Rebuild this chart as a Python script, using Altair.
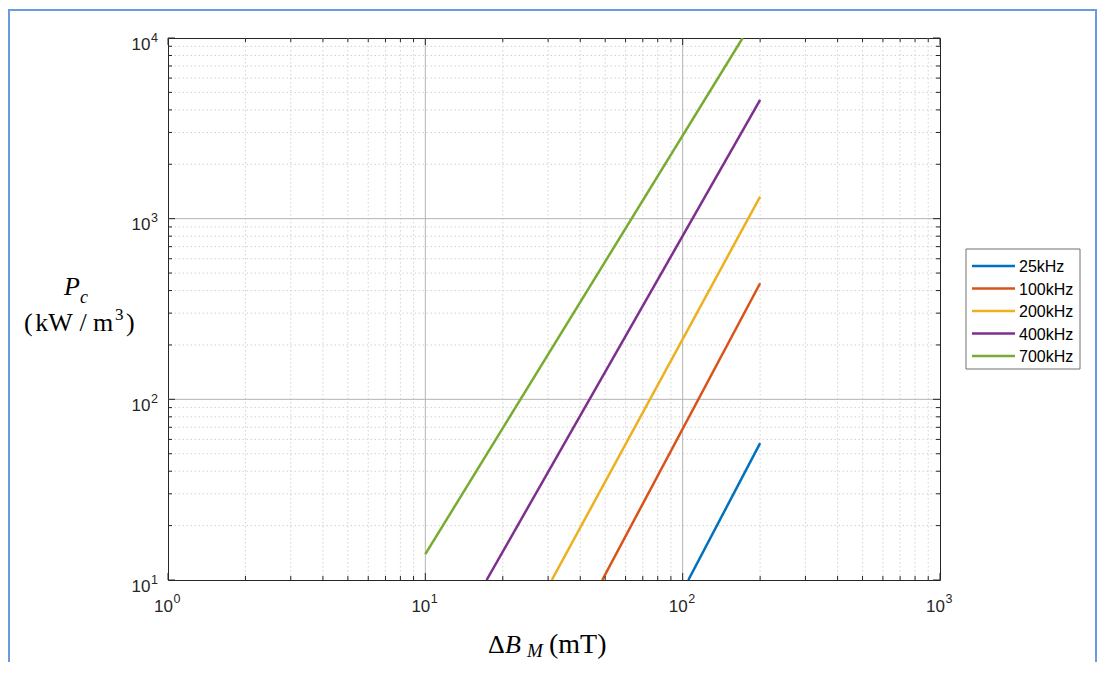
import altair as alt
import pandas as pd

# ---- data ----
series = ["25kHz", "100kHz", "200kHz", "400kHz", "700kHz"]
colors = ["#0072BD", "#D95319", "#EDB120", "#7E2F8E", "#77AC30"]
b_start = [105.2, 48.7, 31.0, 17.3, 10.0]
p_start = [10.0, 10.0, 10.0, 10.0, 13.9]
b_end = [200.0, 200.0, 200.0, 200.0, 171.0]
p_end = [57.2, 439.0, 1324.0, 4540.0, 10000.0]

x_major = [1, 10, 100, 1000]
y_major = [10, 100, 1000, 10000]
x_exp = ["0", "1", "2", "3"]
y_exp = ["1", "2", "3", "4"]
x_minor = [m * 10 ** d for d in range(0, 3) for m in range(2, 10)]
y_minor = [m * 10 ** d for d in range(1, 4) for m in range(2, 10)]
x_grid_major = [10, 100]
y_grid_major = [100, 1000]

W, H = 772, 542
PL, PT, PR, PB = 160, 30, 157, 82
AX = "#262626"
SANS = "Liberation Sans"
SERIF = "Liberation Serif"

rows = []
for i, s in enumerate(series):
    rows.append({"series": s, "B": b_start[i], "P": p_start[i], "k": 0})
    rows.append({"series": s, "B": b_end[i], "P": p_end[i], "k": 1})
lines = pd.DataFrame(rows)

xs = alt.Scale(type="log", domain=[1, 1000], nice=False)
ys = alt.Scale(type="log", domain=[10, 10000], nice=False)


def xenc(f="v"):
    return alt.X(f"{f}:Q", scale=xs, axis=None)


def yenc(f="v"):
    return alt.Y(f"{f}:Q", scale=ys, axis=None)


one = pd.DataFrame({"a": [0]})
layers = []

# minor grids (dotted)
layers.append(alt.Chart(pd.DataFrame({"v": x_minor})).mark_rule(
    color="#d2d2d2", strokeDash=[1.5, 2.5], strokeWidth=1).encode(x=xenc()))
layers.append(alt.Chart(pd.DataFrame({"v": y_minor})).mark_rule(
    color="#d2d2d2", strokeDash=[1.5, 2.5], strokeWidth=1).encode(y=yenc()))
# major grids (solid)
layers.append(alt.Chart(pd.DataFrame({"v": x_grid_major})).mark_rule(
    color="#b4b4b4", strokeWidth=1).encode(x=xenc()))
layers.append(alt.Chart(pd.DataFrame({"v": y_grid_major})).mark_rule(
    color="#b4b4b4", strokeWidth=1).encode(y=yenc()))

# data lines
layers.append(alt.Chart(lines).mark_line(strokeWidth=2.5, clip=True).encode(
    x=alt.X("B:Q", scale=xs, axis=None),
    y=alt.Y("P:Q", scale=ys, axis=None),
    color=alt.Color("series:N", sort=series,
                    scale=alt.Scale(domain=series, range=colors), legend=None),
    order="k:O",
))

# ticks (inward, all four sides)
xmaj = pd.DataFrame({"v": x_major})
xmin = pd.DataFrame({"v": x_minor})
ymaj = pd.DataFrame({"v": y_major})
ymin = pd.DataFrame({"v": y_minor})
for df, ln in [(xmaj, 7), (xmin, 4)]:
    layers.append(alt.Chart(df).mark_rule(color=AX, strokeWidth=1).encode(
        x=xenc(), y=alt.value(H), y2=alt.value(H - ln)))
    layers.append(alt.Chart(df).mark_rule(color=AX, strokeWidth=1).encode(
        x=xenc(), y=alt.value(0), y2=alt.value(ln)))
for df, ln in [(ymaj, 7), (ymin, 4)]:
    layers.append(alt.Chart(df).mark_rule(color=AX, strokeWidth=1).encode(
        y=yenc(), x=alt.value(0), x2=alt.value(ln)))
    layers.append(alt.Chart(df).mark_rule(color=AX, strokeWidth=1).encode(
        y=yenc(), x=alt.value(W), x2=alt.value(W - ln)))

# tick labels 10^n
xl = pd.DataFrame({"v": x_major, "e": x_exp})
yl = pd.DataFrame({"v": y_major, "e": y_exp})
layers.append(alt.Chart(xl).mark_text(text="10", align="right", baseline="alphabetic",
                                      dx=5, font=SANS, fontSize=17, color=AX).encode(
    x=xenc(), y=alt.value(H + 31.5)))
layers.append(alt.Chart(xl).mark_text(align="left", baseline="alphabetic",
                                      dx=5.5, font=SANS, fontSize=12.5, color=AX).encode(
    x=xenc(), y=alt.value(H + 22.5), text="e:N"))
layers.append(alt.Chart(yl).mark_text(text="10", align="right", baseline="alphabetic",
                                      dy=11.5, font=SANS, fontSize=17, color=AX).encode(
    y=yenc(), x=alt.value(-17.5)))
layers.append(alt.Chart(yl).mark_text(align="left", baseline="alphabetic",
                                      dy=3.5, font=SANS, fontSize=12.5, color=AX).encode(
    y=yenc(), x=alt.value(-17), text="e:N"))


def txt(t, x, y, size, italic=False, align="left", font=SERIF, color="#000000"):
    return alt.Chart(one).mark_text(text=t, align=align, baseline="alphabetic",
                                    font=font, fontSize=size, color=color,
                                    fontStyle="italic" if italic else "normal").encode(
        x=alt.value(x), y=alt.value(y))


OX, OY = 168, 38  # page position of the plot origin
# x title:  ΔB_M(mT)
layers.append(txt("Δ", 488 - OX, 653 - OY, 26))
layers.append(txt("B", 505 - OX, 653 - OY, 26, italic=True))
layers.append(txt("M", 527 - OX, 657 - OY, 19, italic=True))
layers.append(txt("(mT)", 549 - OX, 653 - OY, 28))
# y title:  P_c  (kW/m^3)
layers.append(txt("P", 64 - OX, 295 - OY, 26, italic=True))
layers.append(txt("c", 80 - OX, 303 - OY, 18, italic=True))
layers.append(txt("(", 24 - OX, 331 - OY, 26))
layers.append(txt("kW", 54 - OX, 331 - OY, 26, align="center"))
layers.append(txt("/", 83 - OX, 331 - OY, 26, align="center"))
layers.append(txt("m", 103 - OX, 331 - OY, 26, align="center"))
layers.append(txt("3", 115 - OX, 320 - OY, 17))
layers.append(txt(")", 126 - OX, 331 - OY, 26))

# legend (box + entries built from the series lists)
layers.append(alt.Chart(one).mark_rect(fill="white", stroke="#707070", strokeWidth=1).encode(
    x=alt.value(966 - OX), x2=alt.value(1080 - OX),
    y=alt.value(249 - OY), y2=alt.value(369 - OY)))
for i, (s, c) in enumerate(zip(series, colors)):
    cy = 266 + i * 22.5 - OY
    layers.append(alt.Chart(one).mark_rule(color=c, strokeWidth=2.5).encode(
        x=alt.value(972 - OX), x2=alt.value(1015 - OX), y=alt.value(cy)))
    layers.append(txt(s, 1019 - OX, cy + 6, 16, font=SANS))

# outer light-blue frame of the figure
layers.append(alt.Chart(one).mark_rect(fill="transparent", stroke="#6a9be0",
                                       strokeWidth=2).encode(
    x=alt.value(-PL + 1), x2=alt.value(W + PR - 1),
    y=alt.value(-PT + 2), y2=alt.value(H + PB + 50)))

chart = alt.layer(*layers).properties(
    width=W, height=H,
    padding={"left": PL, "top": PT, "right": PR, "bottom": PB},
    autosize=alt.AutoSizeParams(type="none"),
    background="white",
).configure_view(stroke=AX, strokeWidth=1)

chart.save("out.html", embed_options={"renderer": "svg", "actions": False})
